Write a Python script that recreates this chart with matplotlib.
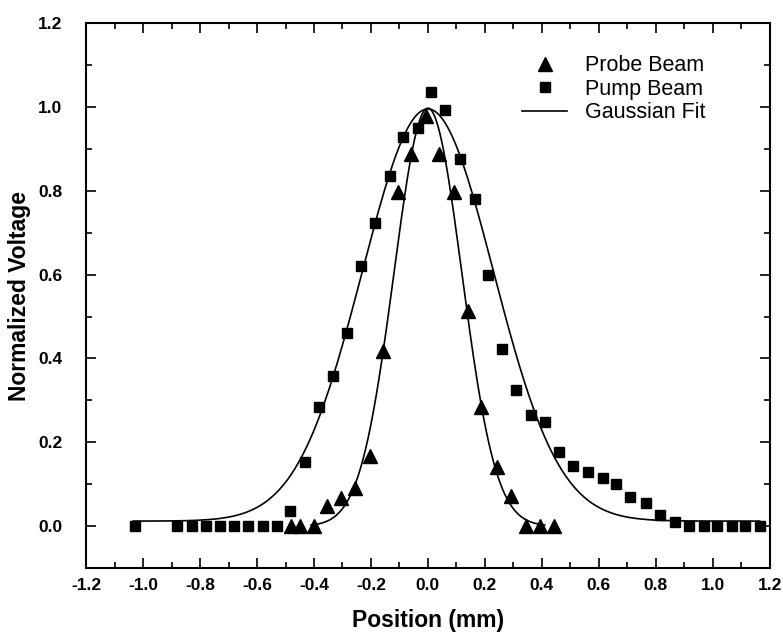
import numpy as np
import matplotlib
matplotlib.use("Agg")
import matplotlib.pyplot as plt
from matplotlib.ticker import MultipleLocator, FormatStrFormatter

# ---- data ----
probe_x = [-0.48, -0.45, -0.40, -0.356, -0.306, -0.256, -0.204, -0.157, -0.106, -0.060,
           -0.007, 0.040, 0.092, 0.141, 0.188, 0.243, 0.290, 0.343, 0.393, 0.443]
probe_y = [0.0, 0.0, 0.0, 0.048, 0.068, 0.092, 0.167, 0.417, 0.796, 0.888,
           0.979, 0.888, 0.798, 0.513, 0.283, 0.140, 0.071, 0.0, 0.0, 0.0]

pump_x = [-1.03, -0.88, -0.83, -0.78, -0.73, -0.68, -0.63, -0.58, -0.53, -0.484,
          -0.432, -0.382, -0.332, -0.285, -0.235, -0.186, -0.133, -0.087, -0.036, 0.011,
          0.060, 0.112, 0.167, 0.212, 0.261, 0.311, 0.361, 0.411, 0.461, 0.510,
          0.563, 0.613, 0.662, 0.711, 0.764, 0.814, 0.867, 0.918, 0.968, 1.016,
          1.068, 1.115, 1.165]
pump_y = [0.0, 0.0, 0.0, 0.0, 0.0, 0.0, 0.0, 0.0, 0.0, 0.035,
          0.152, 0.285, 0.358, 0.461, 0.620, 0.723, 0.836, 0.929, 0.949, 1.035,
          0.993, 0.876, 0.780, 0.599, 0.423, 0.324, 0.265, 0.249, 0.178, 0.144,
          0.128, 0.114, 0.100, 0.070, 0.055, 0.027, 0.011, 0.0, 0.0, 0.0,
          0.0, 0.0, 0.0]

# Gaussian fit parameters (y0, A, xc, sigma)
probe_fit = dict(y0=0.0, A=0.997, xc=0.0, sigma=0.119, xmin=-0.41, xmax=0.41)
pump_fit = dict(y0=0.012, A=0.983, xc=0.0, sigma=0.230, xmin=-1.035, xmax=1.165)

x_ticks = [-1.2, -1.0, -0.8, -0.6, -0.4, -0.2, 0.0, 0.2, 0.4, 0.6, 0.8, 1.0, 1.2]
y_ticks = [0.0, 0.2, 0.4, 0.6, 0.8, 1.0, 1.2]


def gauss(p):
    xs = np.linspace(p["xmin"], p["xmax"], 400)
    return xs, p["y0"] + p["A"] * np.exp(-(xs - p["xc"]) ** 2 / (2 * p["sigma"] ** 2))


plt.rcParams["font.family"] = ["Liberation Sans", "DejaVu Sans"]

fig = plt.figure(figsize=(7.83, 6.39), dpi=100)
ax = fig.add_axes([0.110, 0.111, 0.873, 0.853])

ax.plot(probe_x, probe_y, linestyle="none", marker="^", markersize=9.5,
        color="black", label="Probe Beam")
ax.plot(pump_x, pump_y, linestyle="none", marker="s", markersize=7.8,
        color="black", label="Pump Beam")
fx, fy = gauss(pump_fit)
ax.plot(fx, fy, color="black", linewidth=1.2, label="Gaussian Fit")
fx, fy = gauss(probe_fit)
ax.plot(fx, fy, color="black", linewidth=1.2)

ax.set_xlim(-1.2, 1.2)
ax.set_ylim(-0.1, 1.2)
ax.set_xticks(x_ticks)
ax.set_yticks(y_ticks)
ax.xaxis.set_major_formatter(FormatStrFormatter("%.1f"))
ax.yaxis.set_major_formatter(FormatStrFormatter("%.1f"))
ax.xaxis.set_minor_locator(MultipleLocator(0.1))
ax.yaxis.set_minor_locator(MultipleLocator(0.1))
ax.tick_params(which="both", direction="in", top=True, right=True, width=1.2)
ax.tick_params(which="major", length=7, labelsize=12.5)
ax.tick_params(axis="x", which="major", pad=7)
ax.tick_params(axis="y", which="major", pad=17)
ax.tick_params(which="minor", length=4)
for lbl in ax.get_xticklabels() + ax.get_yticklabels():
    lbl.set_fontweight("bold")
for s in ax.spines.values():
    s.set_linewidth(1.5)

ax.set_xlabel("Position (mm)", fontsize=16.5, fontweight="bold", labelpad=12)
ax.set_ylabel("Normalized Voltage", fontsize=16.5, fontweight="bold", labelpad=5)

leg = ax.legend(loc="upper right", frameon=False, fontsize=15.5,
                bbox_to_anchor=(0.918, 0.957), handlelength=2.1,
                handletextpad=0.8, labelspacing=0.12, borderaxespad=0.0)

fig.savefig("out.png", dpi=100)
